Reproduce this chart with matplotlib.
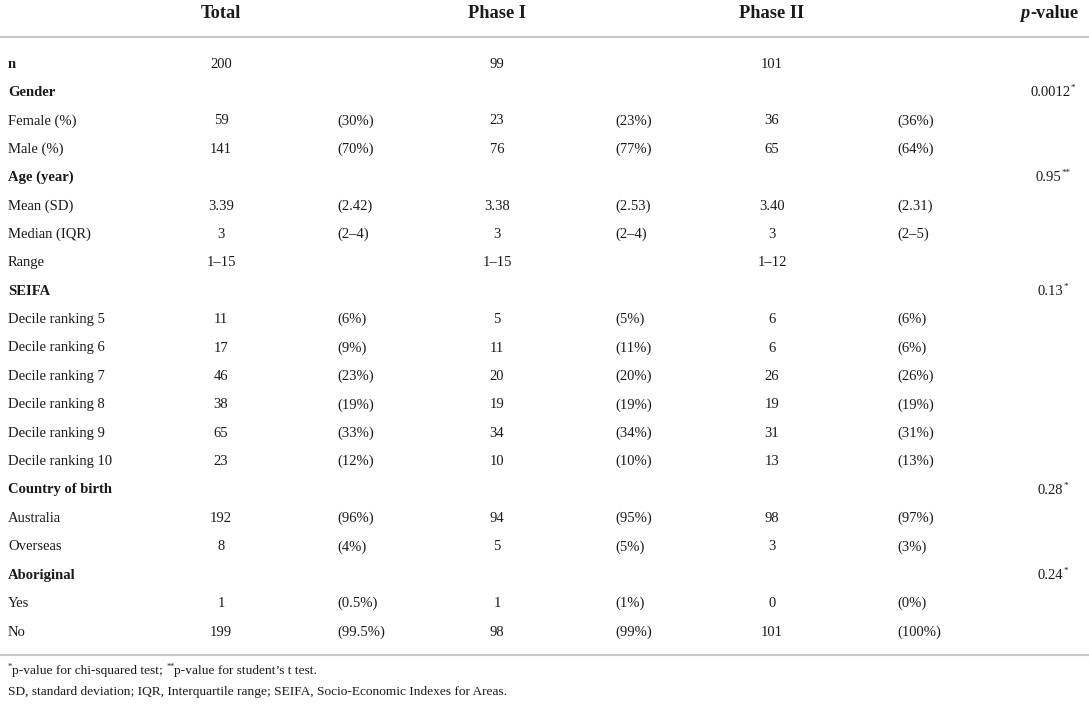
import matplotlib
matplotlib.use("Agg")
import matplotlib.pyplot as plt

plt.rcParams["font.family"] = ["Liberation Serif", "DejaVu Serif"]

# table contents
headers = ["Total", "Phase I", "Phase II"]
labels = ["n", "Gender", "Female (%)", "Male (%)", "Age (year)", "Mean (SD)",
          "Median (IQR)", "Range", "SEIFA", "Decile ranking 5", "Decile ranking 6",
          "Decile ranking 7", "Decile ranking 8", "Decile ranking 9",
          "Decile ranking 10", "Country of birth", "Australia", "Overseas",
          "Aboriginal", "Yes", "No"]
bold_rows = ["n", "Gender", "Age (year)", "SEIFA", "Country of birth", "Aboriginal"]

total = ["200", "", "59", "141", "", "3.39", "3", "1–15", "", "11", "17", "46",
         "38", "65", "23", "", "192", "8", "", "1", "199"]
total_sec = ["", "", "(30%)", "(70%)", "", "(2.42)", "(2–4)", "", "", "(6%)",
             "(9%)", "(23%)", "(19%)", "(33%)", "(12%)", "", "(96%)", "(4%)", "",
             "(0.5%)", "(99.5%)"]
phase1 = ["99", "", "23", "76", "", "3.38", "3", "1–15", "", "5", "11", "20",
          "19", "34", "10", "", "94", "5", "", "1", "98"]
phase1_sec = ["", "", "(23%)", "(77%)", "", "(2.53)", "(2–4)", "", "", "(5%)",
              "(11%)", "(20%)", "(19%)", "(34%)", "(10%)", "", "(95%)", "(5%)", "",
              "(1%)", "(99%)"]
phase2 = ["101", "", "36", "65", "", "3.40", "3", "1–12", "", "6", "6", "26",
          "19", "31", "13", "", "98", "3", "", "0", "101"]
phase2_sec = ["", "", "(36%)", "(64%)", "", "(2.31)", "(2–5)", "", "", "(6%)",
              "(6%)", "(26%)", "(19%)", "(31%)", "(13%)", "", "(97%)", "(3%)", "",
              "(0%)", "(100%)"]
pvalues = ["", "0.0012", "", "", "0.95", "", "", "", "0.13", "", "", "", "", "",
           "", "0.28", "", "", "0.24", "", ""]
pmarks = ["", "*", "", "", "**", "", "", "", "*", "", "", "", "", "", "", "*",
          "", "", "*", "", ""]
footnote1 = [("*", True), ("p-value for chi-squared test; ", False),
             ("**", True), ("p-value for student’s t test.", False)]
footnote2 = "SD, standard deviation; IQR, Interquartile range; SEIFA, Socio-Economic Indexes for Areas."

W, H = 1089, 711
fig = plt.figure(figsize=(W / 100, H / 100), dpi=100)
ax = fig.add_axes([0, 0, 1, 1])
ax.set_xlim(0, W)
ax.set_ylim(H, 0)
ax.axis("off")
renderer = fig.canvas.get_renderer()

ink = "#1a1a1a"
rule = "#c8c8c8"
fs = 10.5
hfs = 13.2
nfs = 9.6


def run_text(x, y, pieces, size, ha="left", **kw):
    """Draws a line made of (text, superscript) pieces, one after another."""
    items = []
    for s, sup in pieces:
        if sup:
            t = ax.text(0, y - size * 0.42, s, ha="left", va="center",
                        fontsize=size * 0.62, color=ink, **kw)
        else:
            t = ax.text(0, y, s, ha="left", va="center", fontsize=size,
                        color=ink, **kw)
        items.append(t)
    widths = [t.get_window_extent(renderer).width for t in items]
    left = x - sum(widths) / 2 if ha == "center" else x
    for t, w in zip(items, widths):
        t.set_x(left)
        left += w


# column layout (pixels)
val_x = [221, 497, 772]
sec_x = [337, 615, 897]
p_x = 1053
y0, dy = 64, 28.4

for hx, h in zip(val_x, headers):
    ax.text(hx, 13, h, ha="center", va="center", fontsize=hfs,
            fontweight="bold", color=ink)
ax.text(1030, 13, "p", ha="right", va="center", fontsize=hfs,
        fontweight="bold", fontstyle="italic", color=ink)
ax.text(1030, 13, "-value", ha="left", va="center", fontsize=hfs,
        fontweight="bold", color=ink)

ax.axhline(37, color=rule, lw=1.5)

for i, lab in enumerate(labels):
    y = y0 + i * dy
    ax.text(8, y, lab, ha="left", va="center", fontsize=fs, color=ink,
            fontweight="bold" if lab in bold_rows else "normal")
    for j, (vals, secs) in enumerate([(total, total_sec), (phase1, phase1_sec),
                                      (phase2, phase2_sec)]):
        if vals[i]:
            ax.text(val_x[j], y, vals[i], ha="center", va="center",
                    fontsize=fs, color=ink)
        if secs[i]:
            ax.text(sec_x[j], y, secs[i], ha="left", va="center",
                    fontsize=fs, color=ink)
    if pvalues[i]:
        run_text(p_x, y, [(pvalues[i], False), (pmarks[i], True)], fs,
                 ha="center")

line_y = y0 + len(labels) * dy - 5
ax.axhline(line_y, color=rule, lw=1.5)

run_text(8, line_y + 16, footnote1, nfs)
ax.text(8, line_y + 37, footnote2, ha="left", va="center", fontsize=nfs,
        color=ink)

fig.savefig("out.png", dpi=100, facecolor="white")
